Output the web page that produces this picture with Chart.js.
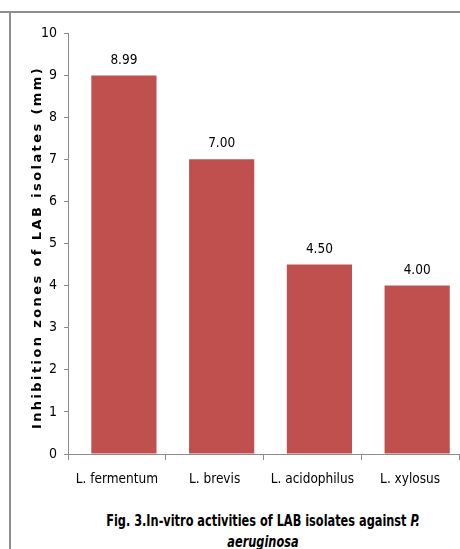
<!DOCTYPE html>
<html>
<head>
<meta charset="utf-8">
<script src="https://cdn.jsdelivr.net/npm/chart.js@4"></script>
<style>
  body { margin: 0; background: #fff; width: 460px; height: 549px; overflow: hidden; position: relative; }
  .borde-top { position: absolute; left: 0; top: 11px; width: 460px; height: 2px; background: #8e8e8e; }
  .borde-izq { position: absolute; left: 9px; top: 11px; width: 2px; height: 538px; background: #8e8e8e; }
  #grafica { position: absolute; left: 0; top: 0; }
  .pie {
    position: absolute; left: 30px; width: 466px; top: 511px;
    text-align: center; font-family: "Liberation Sans Narrow", "DejaVu Sans Condensed", sans-serif;
    font-weight: bold; font-size: 15px; line-height: 21px; color: #000;
    transform: scaleX(0.84); transform-origin: 233px 0;
  }
</style>
</head>
<body>
<div class="borde-top"></div>
<div class="borde-izq"></div>
<canvas id="grafica" width="460" height="500"></canvas>
<div class="pie">Fig. 3.In-vitro activities of LAB isolates against <i>P.</i><br><i>aeruginosa</i></div>

<script>
// --------------------- DATOS ---------------------
const aislados = ["L. fermentum", "L. brevis", "L. acidophilus", "L. xylosus"];
const inhibicion = [8.99, 7.00, 4.50, 4.00];
const ticksY = [0, 1, 2, 3, 4, 5, 6, 7, 8, 9, 10];
const tituloY = "Inhibition zones of LAB isolates (mm)";

const fuenteTicks = "'Liberation Sans Narrow', 'DejaVu Sans Condensed', sans-serif";
// en la figura original las barras estan un poco corridas a la derecha de su categoria
const corrimientoBarras = 0.072;

// etiquetas de valor encima de cada barra
const etiquetasValor = {
  id: 'etiquetasValor',
  afterDatasetsDraw(chart) {
    const c = chart.ctx;
    const meta = chart.getDatasetMeta(0);
    c.save();
    c.font = "13.5px " + fuenteTicks;
    c.fillStyle = '#000';
    c.textAlign = 'center';
    c.textBaseline = 'alphabetic';
    meta.data.forEach((bar, i) => {
      c.fillText(inhibicion[i].toFixed(2), bar.x, bar.y - 12);
    });
    c.restore();
  }
};

// titulo del eje y con espaciado entre letras
const tituloEje = {
  id: 'tituloEje',
  afterDraw(chart) {
    const c = chart.ctx;
    const area = chart.chartArea;
    c.save();
    c.font = "bold 13px 'DejaVu Sans', sans-serif";
    c.letterSpacing = '2.4px';
    c.fillStyle = '#000';
    c.textAlign = 'center';
    c.textBaseline = 'middle';
    c.translate(38, (area.top + area.bottom) / 2 + 4);
    c.rotate(-Math.PI / 2);
    c.fillText(tituloY, 0, 0);
    c.restore();
  }
};

new Chart(document.getElementById('grafica'), {
  type: 'bar',
  data: {
    labels: aislados,
    datasets: [{
      data: inhibicion.map((v, i) => ({ x: i, y: v })),
      xAxisID: 'xBarras',
      backgroundColor: '#C0504D',
      borderWidth: 0,
      categoryPercentage: 1,
      barPercentage: 0.667
    }]
  },
  options: {
    responsive: false,
    animation: false,
    layout: { padding: { top: 33, right: 1, left: 0, bottom: 0 } },
    plugins: {
      legend: { display: false },
      tooltip: { enabled: false }
    },
    scales: {
      x: {
        type: 'category',
        grid: { display: true, drawOnChartArea: false, drawTicks: true, tickLength: 6, color: '#8c8c8c', offset: true },
        border: { display: true, color: '#8c8c8c', width: 1 },
        ticks: { color: '#000', font: { family: fuenteTicks, size: 13.5 }, padding: 11, maxRotation: 0 },
        afterFit(scale) { scale.height = 46; }
      },
      xBarras: {
        type: 'linear',
        display: false,
        offset: false,
        min: -0.5 - corrimientoBarras,
        max: aislados.length - 0.5 - corrimientoBarras,
        afterBuildTicks(scale) { scale.ticks = aislados.map((_, i) => ({ value: i })); }
      },
      y: {
        min: 0,
        max: 10,
        afterBuildTicks(scale) { scale.ticks = ticksY.map(v => ({ value: v })); },
        grid: { display: true, drawOnChartArea: false, drawTicks: true, tickLength: 4, color: '#8c8c8c' },
        border: { display: true, color: '#8c8c8c', width: 1 },
        ticks: { color: '#000', font: { family: fuenteTicks, size: 14 }, padding: 7 },
        afterFit(scale) { scale.width = 68; }
      }
    }
  },
  plugins: [etiquetasValor, tituloEje]
});
</script>
</body>
</html>
